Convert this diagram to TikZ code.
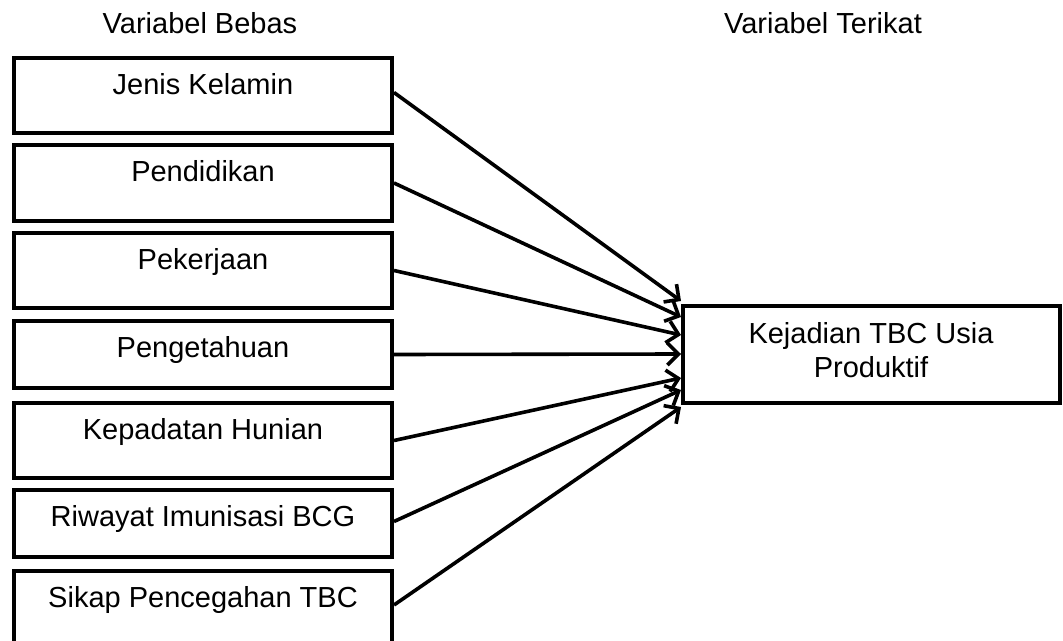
\documentclass[tikz,border=0pt]{standalone}
\usepackage{fontspec}
\setmainfont{Liberation Sans}
\usetikzlibrary{arrows.meta,calc}
\begin{document}
\begin{tikzpicture}[x=1pt,y=-1pt,
  box/.style={draw=black,line width=4pt,minimum width=378pt,inner sep=0pt},
  lbl/.style={anchor=base,inner sep=0pt,font=\fontsize{29}{34}\selectfont},
  arr/.style={line width=3.6pt,-{Straight Barb[length=11pt,width=22pt,line width=3.6pt]}}]
\useasboundingbox (0,0) rectangle (1063,640);
\clip (0,0) rectangle (1063,640);
% headers
\node[lbl] (hb) at (200,33) {Variabel Bebas};
\node[lbl] (ht) at (823,33) {Variabel Terikat};
% left boxes
\node[box,minimum height=75pt] (b1) at (203,95.5) {};
\node[box,minimum height=76pt] (b2) at (203,183) {};
\node[box,minimum height=75pt] (b3) at (203,270.5) {};
\node[box,minimum height=67pt] (b4) at (203,354.5) {};
\node[box,minimum height=75pt] (b5) at (203,440.5) {};
\node[box,minimum height=67pt] (b6) at (203,523.5) {};
\node[box,minimum height=78pt] (b7) at (203,610) {};
\node[lbl] (t1) at ($(b1.north)+(0,38)$) {Jenis Kelamin};
\node[lbl] (t2) at ($(b2.north)+(0,38)$) {Pendidikan};
\node[lbl] (t3) at ($(b3.north)+(0,38)$) {Pekerjaan};
\node[lbl] (t4) at ($(b4.north)+(0,38)$) {Pengetahuan};
\node[lbl] (t5) at ($(b5.north)+(0,38)$) {Kepadatan Hunian};
\node[lbl] (t6) at ($(b6.north)+(0,38)$) {Riwayat Imunisasi BCG};
\node[lbl] (t7) at ($(b7.north)+(0,38)$) {Sikap Pencegahan TBC};
% right box
\node[box,minimum width=377pt,minimum height=97pt] (r) at (871.5,354.5) {};
\node[lbl,align=center] (rt) at (871,377) {Kejadian TBC Usia\\Produktif};
% arrow end points
\coordinate (e1) at ($(r.north west)+(0,-3)$);
\coordinate (e2) at ($(r.north west)+(0,13)$);
\coordinate (e3) at ($(r.north west)+(0,31)$);
\coordinate (e4) at ($(r.north west)+(0,50)$);
\coordinate (e5) at ($(r.north west)+(0,74)$);
\coordinate (e6) at ($(r.north west)+(0,86)$);
\coordinate (e7) at ($(r.north west)+(0,103)$);
\draw[arr] ($(b1.east)+(0,-3)$) -- (e1);
\draw[arr] (b2.east) -- (e2);
\draw[arr] (b3.east) -- (e3);
\draw[arr] (b4.east) -- (e4);
\draw[arr] (b5.east) -- (e5);
\draw[arr] ($(b6.east)+(0,-2)$) -- (e6);
\draw[arr] ($(b7.east)+(0,-5)$) -- (e7);
\end{tikzpicture}
\end{document}
